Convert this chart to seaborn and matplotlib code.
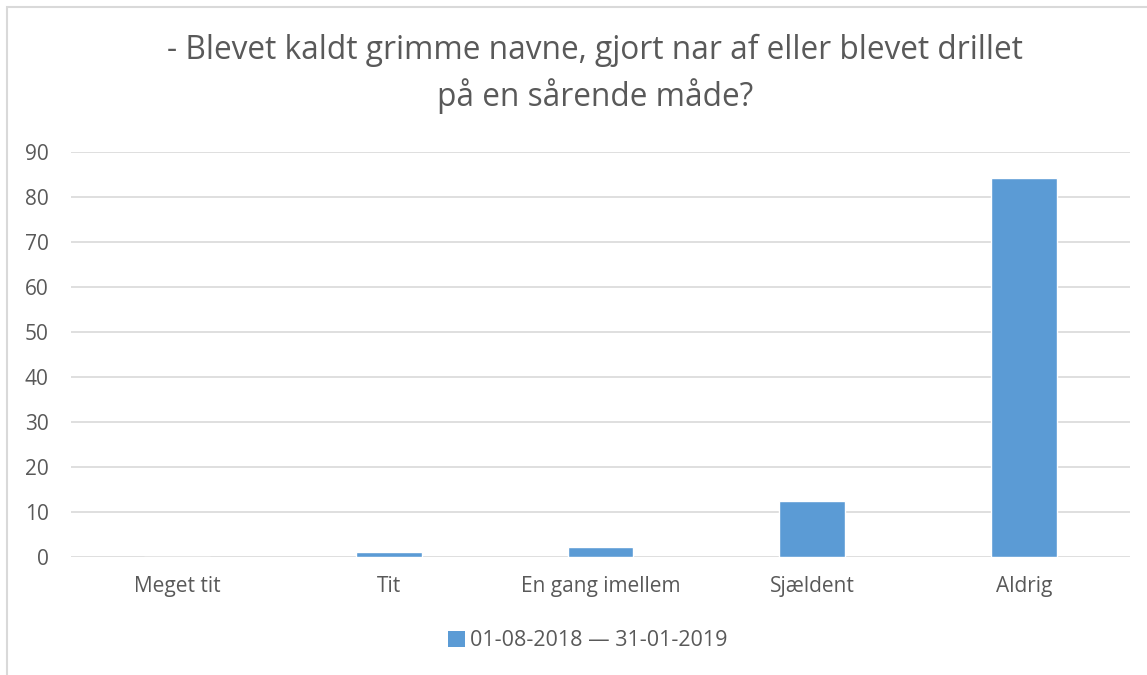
import matplotlib
matplotlib.use("Agg")
import matplotlib.pyplot as plt
import seaborn as sns
import pandas as pd
from matplotlib.patches import Rectangle, Patch

categories = ["Meget tit", "Tit", "En gang imellem", "Sjældent", "Aldrig"]
values = [0.0, 1.1, 2.2, 12.4, 84.3]
series_name = "01-08-2018 \u2014 31-01-2019"
title = "- Blevet kaldt grimme navne, gjort nar af eller blevet drillet\npå en sårende måde?"
yticks = [0, 10, 20, 30, 40, 50, 60, 70, 80, 90]

bar_color = "#5B9BD5"
text_color = "#595959"
grid_color = "#D9D9D9"

sns.set_theme(style="white")
plt.rcParams["font.family"] = ["Open Sans", "DejaVu Sans"]

df = pd.DataFrame({"kategori": categories, "andel": values})

fig = plt.figure(figsize=(11.47, 6.75), dpi=100)
ax = fig.add_axes([71 / 1147, 1 - 557 / 675, 1059 / 1147, 405 / 675])

sns.barplot(data=df, x="kategori", y="andel", color=bar_color, width=0.31,
            saturation=1, ax=ax, zorder=3)

ax.set_ylim(0, 90)
ax.set_xlim(-0.5, len(categories) - 0.5)
ax.set_yticks(yticks)
ax.yaxis.grid(True, color=grid_color, linewidth=1.2, zorder=0)
ax.xaxis.grid(False)
for s in ax.spines.values():
    s.set_visible(False)
ax.tick_params(axis="both", length=0, labelsize=15, labelcolor=text_color)
ax.tick_params(axis="y", pad=16)
ax.tick_params(axis="x", pad=14)
ax.set_xlabel("")
ax.set_ylabel("")

fig.text(595 / 1147, 1 - 74 / 675, title, ha="center", va="center",
         fontsize=22.8, color=text_color, linespacing=1.4)

handles = [Patch(facecolor=bar_color, edgecolor="none")]
fig.legend(handles, [series_name], loc="center", bbox_to_anchor=(588 / 1147, 1 - 641 / 675),
           frameon=False, fontsize=15.5, labelcolor=text_color, handlelength=0.75,
           handleheight=0.75, handletextpad=0.25)

# light chart-area border
fig.patches.append(Rectangle((7 / 1147, -0.1), 1.2, 1 - 7 / 675 + 0.1,
                             transform=fig.transFigure, fill=False,
                             edgecolor=grid_color, linewidth=1.5))

fig.savefig("out.png", dpi=100, facecolor="white")
